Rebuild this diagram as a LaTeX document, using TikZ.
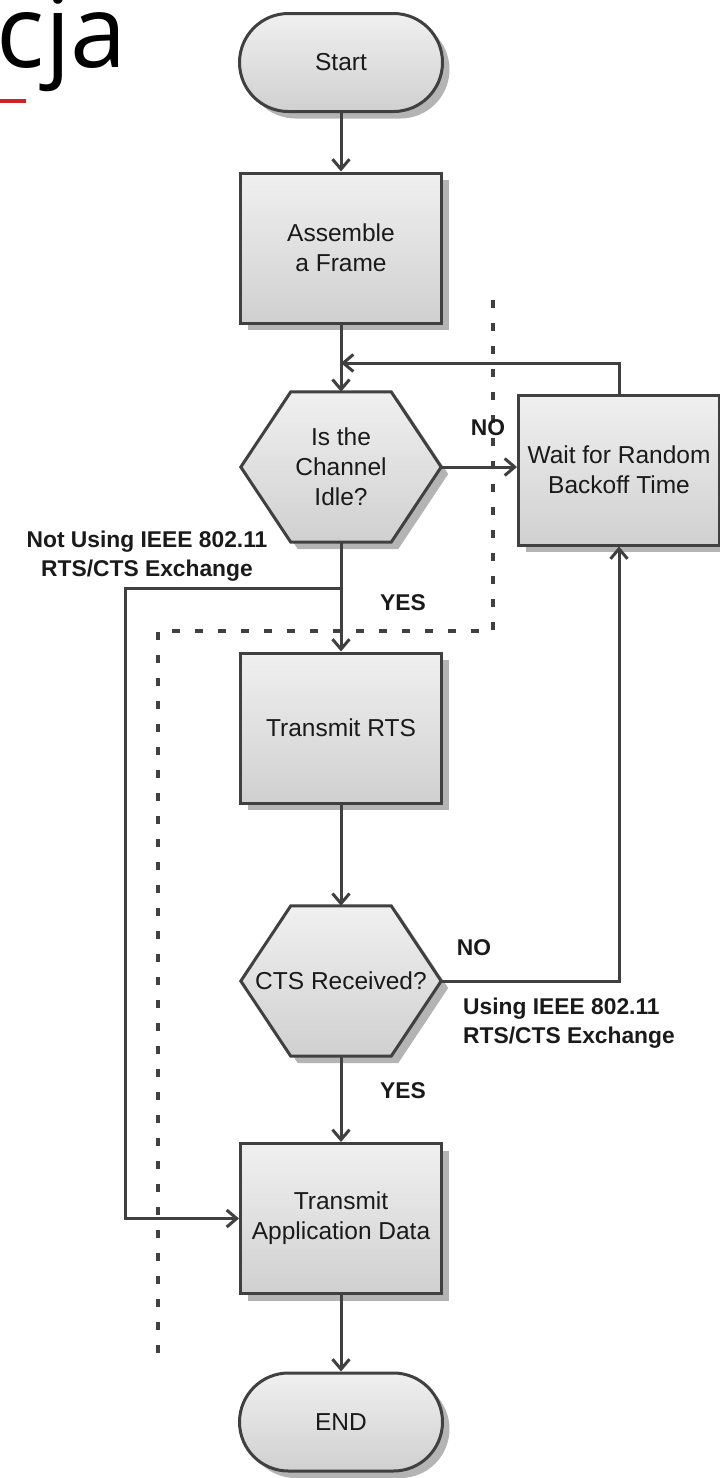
\documentclass[tikz,border=0pt]{standalone}
\usepackage{fontspec}
\setmainfont{Liberation Sans}
\newfontfamily\titlefont{Open Sans}
\usetikzlibrary{shapes.misc,arrows.meta,shadows,backgrounds}
\definecolor{bd}{HTML}{404040}
\definecolor{gl}{HTML}{F0F0F0}
\definecolor{gd}{HTML}{D0D0D0}
\definecolor{shc}{HTML}{B4B4B4}
\definecolor{redl}{HTML}{D0202A}
\definecolor{txt}{HTML}{1A1A1A}
\begin{document}
\begin{tikzpicture}[x=1pt,y=-1pt,
  box/.style={rectangle, draw=bd, line width=3pt, top color=gl, bottom color=gd,
    minimum width=201pt, minimum height=150pt, inner sep=0pt, align=center,
    font=\fontsize{24.5}{30}\selectfont, text=txt,
    drop shadow={shadow xshift=7pt, shadow yshift=-7pt, fill=shc, opacity=1}},
  term/.style={box, rounded rectangle, minimum width=203pt, minimum height=98pt},
  hexn/.style={minimum width=200pt, minimum height=150pt, inner sep=0pt, align=center,
    font=\fontsize{24.5}{30}\selectfont, text=txt},
  arr/.style={draw=bd, line width=3pt, -{Straight Barb[length=10pt,width=17pt]}},
  lbl/.style={font=\bfseries\fontsize{22.8}{29}\selectfont, text=txt, inner sep=0pt},
  dotl/.style={draw=bd, line width=3.5pt, dash pattern=on 8pt off 15pt}
]
\useasboundingbox (0,0) rectangle (720,1478);
\clip (0,0) rectangle (720,1478);

% title fragment
\node[anchor=base east, inner sep=0pt, text=black,
  font=\titlefont\fontsize{101}{110}\selectfont] (ttl) at (127,67) {cja};
\coordinate (r1) at (0,101);
\coordinate (r2) at (26,101);
\draw[redl, line width=4pt] (r1) -- (r2);

% nodes
\node[term] (start) at (341,62.5) {Start};
\node[box] (asm) at (341,248) {Assemble\\a Frame};
\node[hexn] (h1) at (341,467) {Is the\\Channel\\Idle?};
\node[box] (wait) at (619,470) {Wait for Random\\Backoff Time};
\node[box] (rts) at (341,728) {Transmit RTS};
\node[hexn] (h2) at (341,981) {CTS Received?};
\node[box] (app) at (341,1218.5) {Transmit\\Application Data};
\node[term] (end) at (341,1422) {END};

% hexagon shapes
\begin{scope}[on background layer]
\foreach \h in {h1,h2}{
  \fill[shc] ([shift={(7,7)}]\h.west) -- ([shift={(57,7)}]\h.north west)
    -- ([shift={(-43,7)}]\h.north east) -- ([shift={(7,7)}]\h.east)
    -- ([shift={(-43,7)}]\h.south east) -- ([shift={(57,7)}]\h.south west) -- cycle;
  \path[draw=bd, line width=3pt, top color=gl, bottom color=gd]
    (\h.west) -- ([xshift=50pt]\h.north west) -- ([xshift=-50pt]\h.north east)
    -- (\h.east) -- ([xshift=-50pt]\h.south east) -- ([xshift=50pt]\h.south west) -- cycle;
}
\end{scope}

% connectors
\coordinate (fbj) at (341,363);
\coordinate (br) at (341,588);
\draw[arr] (start.south) -- (asm.north);
\draw[arr] (asm.south) -- (h1.north);
\draw[arr] (wait.north) |- (fbj);
\draw[arr] (h1.east) -- (wait.west |- h1.east);
\draw[arr] (h1.south) -- (rts.north);
\draw[arr] (br) -| ([xshift=-113.5pt]app.west) -- (app.west);
\draw[arr] (rts.south) -- (h2.north);
\draw[arr] (h2.east) -| (wait.south);
\draw[arr] (h2.south) -- (app.north);
\draw[arr] (app.south) -- (end.north);

% dotted boundary
\coordinate (d1) at (493,300);
\coordinate (d2) at (493,631);
\coordinate (d3) at (158,631);
\coordinate (d4) at (158,1360);
\draw[dotl] (d1) -- (d2) -- (d3) -- (d4);

% labels
\node[lbl] (no1) at (488,428) {NO};
\node[lbl] (yes1) at (403,603) {YES};
\node[lbl] (no2) at (474,948) {NO};
\node[lbl] (yes2) at (403,1091) {YES};
\node[lbl, align=center] (nuse) at (147,556) {Not Using IEEE 802.11\\RTS/CTS Exchange};
\node[lbl, align=left, anchor=west] (use) at (463,1023) {Using IEEE 802.11\\RTS/CTS Exchange};
\end{tikzpicture}
\end{document}
